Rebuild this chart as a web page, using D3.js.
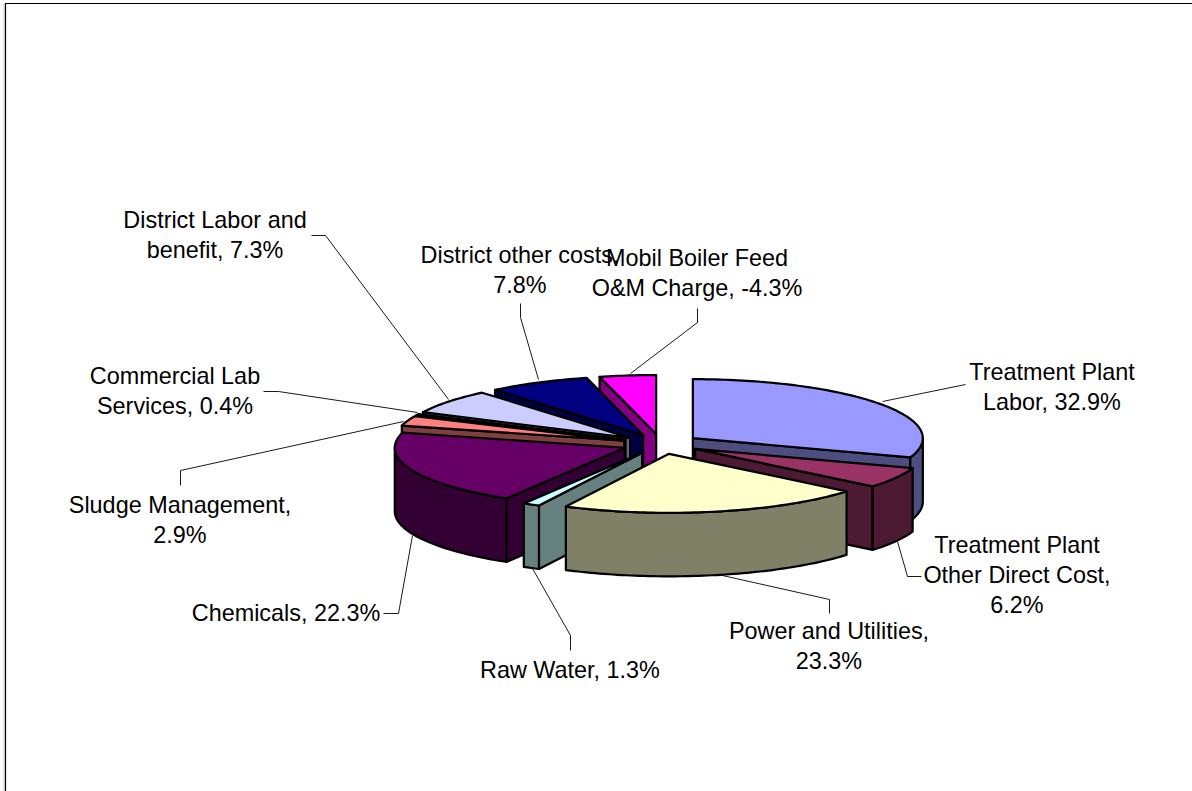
<!DOCTYPE html>
<html>
<head>
<meta charset="utf-8">
<script src="https://cdn.jsdelivr.net/npm/d3@7"></script>
<style>
html, body { margin: 0; padding: 0; background: #fff; }
svg { display: block; }
text { font-family: "Liberation Sans", Arial, sans-serif; font-size: 23.4px; fill: #000; text-anchor: middle; }
</style>
</head>
<body>
<svg id="chart" width="1192" height="791"></svg>
<script>
var categories = ["Treatment Plant Labor", "Treatment Plant Other Direct Cost", "Power and Utilities", "Raw Water",
    "Chemicals", "Sludge Management", "Commercial Lab Services", "District Labor and benefit",
    "District other costs", "Mobil Boiler Feed O&M Charge"];
var shares = [32.9, 6.2, 23.3, 1.3, 22.3, 2.9, 0.4, 7.3, 7.8, -4.3];
var sliceColors = ["#9999ff", "#993366", "#ffffcc", "#ccffff", "#660066", "#ff8080", "#0066cc", "#ccccff", "#000080", "#ff00ff"];

// label lines and where they sit, one entry per slice
var labelLines = [
    ["Treatment Plant", "Labor, 32.9%"],
    ["Treatment Plant", "Other Direct Cost,", "6.2%"],
    ["Power and Utilities,", "23.3%"],
    ["Raw Water, 1.3%"],
    ["Chemicals, 22.3%"],
    ["Sludge Management,", "2.9%"],
    ["Commercial Lab", "Services, 0.4%"],
    ["District Labor and", "benefit, 7.3%"],
    ["District other costs,", "7.8%"],
    ["Mobil Boiler Feed", "O&M Charge, -4.3%"]
];
var labelAnchors = [[1052, 380], [1017, 553], [829, 639], [570, 678], [286, 621], [180, 513], [175, 384], [215, 228], [520, 263], [697, 266]];
var leaderPaths = [
    [[882, 401], [965, 384]],
    [[897, 541], [907, 576], [921, 576]],
    [[722, 575], [829, 599], [829, 613]],
    [[532, 568], [570, 635], [570, 650]],
    [[412, 535], [398, 613], [383, 613]],
    [[403, 421], [180, 470], [180, 485]],
    [[417, 412], [278, 391], [263, 391]],
    [[448, 399], [325, 235], [311, 235]],
    [[538, 379], [520, 317], [520, 303]],
    [[630, 373], [697, 322], [697, 308]]
];

var width = 1192, height = 791;
var cx = 661, cy = 444, rx = 230, ry = 59, depth = 63.5, explode = 0.17;
var lineHeight = 30;

var svg = d3.select("#chart");

// unit circle -> screen, flattened ellipse
var xScale = d3.scaleLinear().domain([-1, 1]).range([cx - rx, cx + rx]);
var yScale = d3.scaleLinear().domain([-1, 1]).range([cy + ry, cy - ry]);

var pie = d3.pie().sort(null).value(function(d) { return Math.abs(d.value); });
var slices = pie(shares.map(function(v, i) { return {name: categories[i], value: v, color: sliceColors[i]}; }));

var line = d3.line();

function shade(c) {
    var k = d3.rgb(c);
    return d3.rgb(k.r / 2, k.g / 2, k.b / 2).formatHex();
}

// point on the slice at a given angle and radius, moved out along the mid angle
function point(s, a, r, drop) {
    var mid = (s.startAngle + s.endAngle) / 2;
    var ux = explode * Math.sin(mid) + r * Math.sin(a);
    var uy = explode * Math.cos(mid) + r * Math.cos(a);
    return [xScale(ux), yScale(uy) + (drop || 0)];
}

function arcPoints(s, a0, a1, drop) {
    var n = Math.max(2, Math.ceil((a1 - a0) / 0.02));
    return d3.range(n + 1).map(function(i) {
        return point(s, a0 + (a1 - a0) * i / n, 1, drop);
    });
}

// radial wall, hidden when its outward side looks away from the viewer
function wallPath(s, a) {
    return line([point(s, a, 0), point(s, a, 1), point(s, a, 1, depth), point(s, a, 0, depth)]) + "Z";
}

var frame = svg.append("g");
frame.append("line").attr("x1", 4).attr("x2", 4).attr("y1", 4).attr("y2", height).attr("stroke", "#c8c8c8").attr("stroke-width", 1);
frame.append("path")
    .attr("d", line([[5.5, height], [5.5, 3.5], [width, 3.5]]))
    .attr("fill", "none")
    .attr("stroke", "#000")
    .attr("stroke-width", 1.2);

var leaders = svg.append("g");
leaderPaths.forEach(function(p) {
    leaders.append("path")
        .attr("d", line(p.map(function(q) { return [q[0] + 0.5, q[1] + 0.5]; })))
        .attr("fill", "none")
        .attr("stroke", "#000")
        .attr("stroke-width", 0.9);
});

// painter's order, back of the pie first
var order = slices.slice().sort(function(a, b) {
    return Math.cos((b.startAngle + b.endAngle) / 2) - Math.cos((a.startAngle + a.endAngle) / 2);
});

var pieGroup = svg.append("g")
    .attr("stroke", "#000")
    .attr("stroke-width", 2.2)
    .attr("stroke-linejoin", "round");

order.forEach(function(s) {
    var g = pieGroup.append("g");
    var side = shade(s.data.color);
    var a0 = s.startAngle, a1 = s.endAngle;

    if (Math.cos(a0 - Math.PI / 2) < -0.001) {
        g.append("path").attr("d", wallPath(s, a0)).attr("fill", side);
    }
    if (Math.cos(a1 + Math.PI / 2) < -0.001) {
        g.append("path").attr("d", wallPath(s, a1)).attr("fill", side);
    }

    // outer wall, only the front half of the rim
    var from = Math.max(a0, Math.PI / 2), to = Math.min(a1, 3 * Math.PI / 2);
    if (to > from) {
        var rim = arcPoints(s, from, to, 0).concat(arcPoints(s, from, to, depth).reverse());
        g.append("path").attr("d", line(rim) + "Z").attr("fill", side);
    }

    var top = [point(s, a0, 0)].concat(arcPoints(s, a0, a1, 0));
    g.append("path").attr("d", line(top) + "Z").attr("fill", s.data.color);
});

var labels = svg.append("g");
labelLines.forEach(function(lines, i) {
    var t = labels.append("text")
        .attr("x", labelAnchors[i][0])
        .attr("y", labelAnchors[i][1]);
    lines.forEach(function(txt, j) {
        t.append("tspan")
            .attr("x", labelAnchors[i][0])
            .attr("y", labelAnchors[i][1] + j * lineHeight)
            .text(txt);
    });
});
</script>
</body>
</html>
